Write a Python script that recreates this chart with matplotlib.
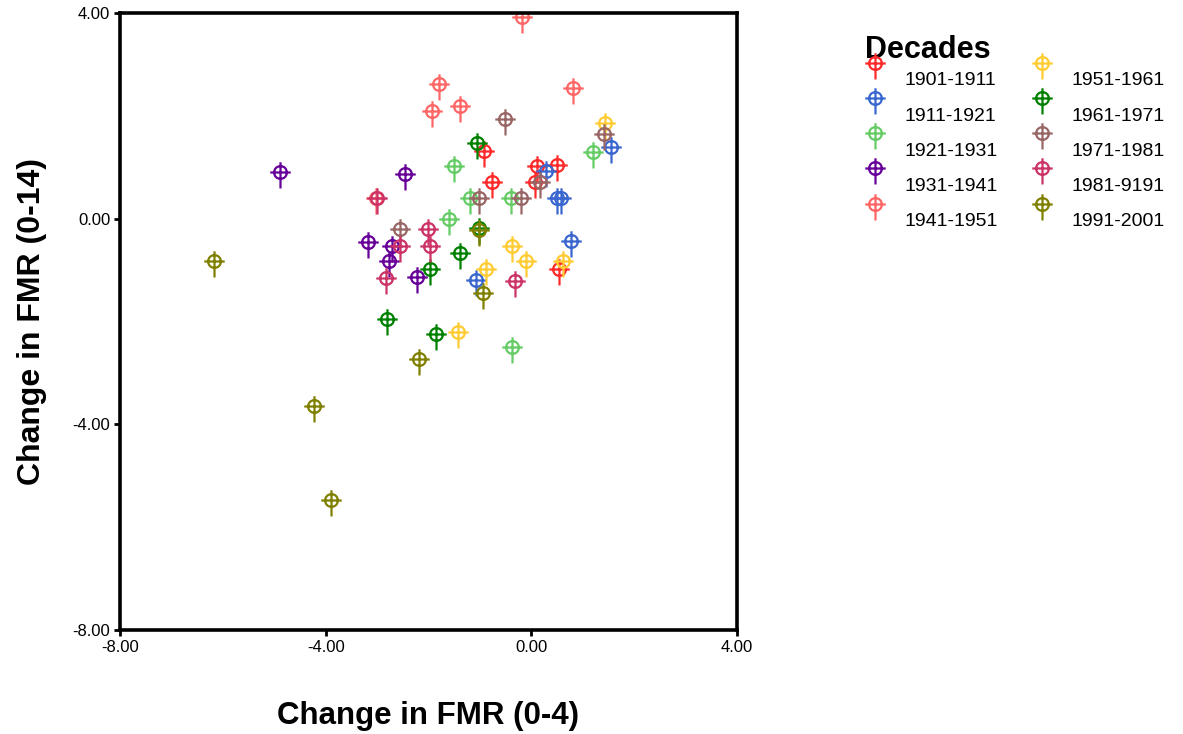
import matplotlib
matplotlib.use('Agg')
import matplotlib.pyplot as plt
from matplotlib.path import Path
from matplotlib.legend_handler import HandlerLine2D
import numpy as np

plt.rcParams['font.family'] = ['Liberation Sans', 'DejaVu Sans']

# decades and their colours
decades = ['1901-1911', '1911-1921', '1921-1931', '1931-1941', '1941-1951',
           '1951-1961', '1961-1971', '1971-1981', '1981-9191', '1991-2001']
colors = ['#ff2a2a', '#3a66d0', '#66cc66', '#660099', '#ff6666',
          '#ffcc33', '#008000', '#996666', '#cc3366', '#808000']

# change in FMR (0-4) per decade
x_1901 = [-0.93, -0.77, 0.11, 0.49, 0.08, 0.53]
x_1911 = [0.29, 1.54, 0.50, 0.58, 0.77, -1.07]
x_1921 = [-1.51, 1.19, -1.19, -0.40, -1.61, -0.38]
x_1931 = [-4.88, -3.18, -2.45, -2.71, -2.77, -2.22]
x_1941 = [-0.18, 0.82, -1.80, -1.93, -1.38, -3.03]
x_1951 = [1.44, -0.38, -0.10, 0.61, -0.89, -1.43]
x_1961 = [-1.06, -1.39, -1.98, -2.81, -1.85, -1.01]
x_1971 = [-0.51, 1.41, 0.16, -1.01, -0.20, -2.56]
x_1981 = [-3.00, -2.01, -2.55, -1.98, -2.82, -0.31]
x_1991 = [-6.18, -4.22, -3.89, -2.18, -0.94, -1.01]

# change in FMR (0-14) per decade
y_1901 = [1.32, 0.71, 1.03, 1.05, 0.71, -0.97]
y_1911 = [0.93, 1.40, 0.41, 0.41, -0.43, -1.19]
y_1921 = [1.03, 1.29, 0.41, 0.41, -0.01, -2.50]
y_1931 = [0.90, -0.46, 0.87, -0.53, -0.83, -1.13]
y_1941 = [3.92, 2.54, 2.61, 2.09, 2.20, 0.41]
y_1951 = [1.87, -0.54, -0.82, -0.82, -0.98, -2.21]
y_1961 = [1.48, -0.66, -0.97, -1.96, -2.24, -0.19]
y_1971 = [1.94, 1.65, 0.71, 0.41, 0.41, -0.20]
y_1981 = [0.41, -0.20, -0.53, -0.53, -1.15, -1.22]
y_1991 = [-0.83, -3.65, -5.47, -2.72, -1.45, -0.23]

xs = [x_1901, x_1911, x_1921, x_1931, x_1941, x_1951, x_1961, x_1971, x_1981, x_1991]
ys = [y_1901, y_1911, y_1921, y_1931, y_1941, y_1951, y_1961, y_1971, y_1981, y_1991]

# circle with a cross, long arm downwards
circ = Path.circle((0, 0), 1.0)
hbar = Path([[-1.6, 0], [1.6, 0]], [Path.MOVETO, Path.LINETO])
vbar = Path([[0, 1.6], [0, -2.5]], [Path.MOVETO, Path.LINETO])
cross_marker = Path.make_compound_path(circ, hbar, vbar)


# legend marker sits a bit above its label, like the original
class RaisedHandler(HandlerLine2D):
    def create_artists(self, legend, orig_handle, xdescent, ydescent,
                       width, height, fontsize, trans):
        arts = super().create_artists(legend, orig_handle, xdescent, ydescent,
                                      width, height, fontsize, trans)
        for a in arts:
            a.set_ydata(np.asarray(a.get_ydata()) + 0.8 * fontsize)
        return arts


fig = plt.figure(figsize=(11.83, 7.34), dpi=100)
ax = fig.add_axes([0.1014, 0.1417, 0.5216, 0.8406])

lines = []
for lab, col, xv, yv in zip(decades, colors, xs, ys):
    ln, = ax.plot(xv, yv, linestyle='none', marker=cross_marker, markersize=23,
                  markerfacecolor='none', markeredgecolor=col, markeredgewidth=1.6,
                  label=lab)
    lines.append(ln)

ax.set_xlim(-8, 4)
ax.set_ylim(-8, 4)
ax.set_xticks([-8, -4, 0, 4])
ax.set_yticks([-8, -4, 0, 4])
ax.set_xticklabels(['%.2f' % v for v in [-8, -4, 0, 4]])
ax.set_yticklabels(['%.2f' % v for v in [-8, -4, 0, 4]])
ax.tick_params(direction='out', length=4, width=2, pad=3, labelsize=12)

for sp in ax.spines.values():
    sp.set_linewidth(2.6)
    sp.set_color('black')

ax.set_xlabel('Change in FMR (0-4)', fontsize=22.5, fontweight='bold', labelpad=33)
ax.set_ylabel('Change in FMR (0-14)', fontsize=23, fontweight='bold', labelpad=18)

leg = fig.legend(handles=lines, loc='upper left', bbox_to_anchor=(0.72, 0.971), ncol=2,
                 frameon=False, fontsize=14, title='Decades',
                 title_fontproperties={'size': 22, 'weight': 'bold'},
                 alignment='left', handlelength=1.0, handletextpad=1.0,
                 labelspacing=0.9, columnspacing=1.8, borderpad=0.2,
                 handler_map={ln: RaisedHandler() for ln in lines})
leg._legend_box.sep = 5

fig.savefig('out.png', dpi=100)
